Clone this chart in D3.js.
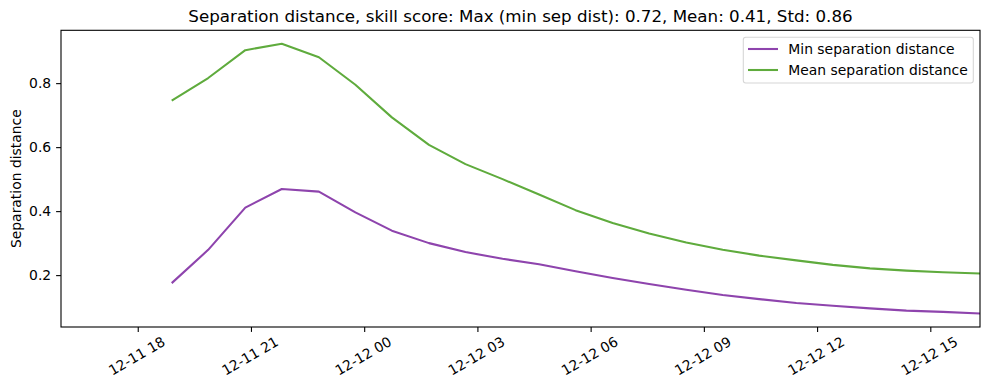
<!DOCTYPE html>
<html>
<head>
<meta charset="utf-8">
<script src="https://cdn.jsdelivr.net/npm/d3@7"></script>
<style>
  html, body { margin: 0; padding: 0; background: #fff; }
  svg { display: block; font-family: "DejaVu Sans", sans-serif; }
</style>
</head>
<body>
<svg id="chart" width="989" height="390"></svg>
<script>
// ---- data ----
const times = [
  "2023-12-11T18:54", "2023-12-11T19:52", "2023-12-11T20:51", "2023-12-11T21:49",
  "2023-12-11T22:48", "2023-12-11T23:46", "2023-12-12T00:44", "2023-12-12T01:43",
  "2023-12-12T02:41", "2023-12-12T03:40", "2023-12-12T04:38", "2023-12-12T05:36",
  "2023-12-12T06:35", "2023-12-12T07:33", "2023-12-12T08:32", "2023-12-12T09:30",
  "2023-12-12T10:28", "2023-12-12T11:27", "2023-12-12T12:25", "2023-12-12T13:24",
  "2023-12-12T14:22", "2023-12-12T15:20", "2023-12-12T16:19"
];
const minSep = [0.175, 0.279, 0.411, 0.469, 0.461, 0.396, 0.339, 0.300, 0.272, 0.251, 0.234, 0.212,
                0.191, 0.172, 0.154, 0.138, 0.125, 0.113, 0.104, 0.096, 0.089, 0.085, 0.080];
const meanSep = [0.745, 0.816, 0.903, 0.923, 0.881, 0.795, 0.693, 0.607, 0.547, 0.500, 0.452, 0.403,
                 0.363, 0.330, 0.302, 0.279, 0.261, 0.246, 0.232, 0.221, 0.214, 0.209, 0.205];
const seriesNames = ["Min separation distance", "Mean separation distance"];
const seriesColors = ["#8e44ad", "#5fab3d"];
const yTicks = [0.2, 0.4, 0.6, 0.8];
const xTickTimes = ["2023-12-11T18:00", "2023-12-11T21:00", "2023-12-12T00:00", "2023-12-12T03:00",
                    "2023-12-12T06:00", "2023-12-12T09:00", "2023-12-12T12:00", "2023-12-12T15:00"];
const xDomain = ["2023-12-11T15:58", "2023-12-12T16:19"];
const titleText = "Separation distance, skill score: Max (min sep dist): 0.72, Mean: 0.41, Std: 0.86";
const yLabel = "Separation distance";

// ---- layout ----
const parse = d3.isoParse;
const svg = d3.select("#chart");
const L = 61, R = 980, T = 30.3, B = 327;
const x = d3.scaleTime().domain(xDomain.map(parse)).range([L, R]);
const allVals = minSep.concat(meanSep);
const lo = d3.min(allVals), hi = d3.max(allVals), pad = (hi - lo) * 0.05;
const y = d3.scaleLinear().domain([lo - pad, hi + pad]).range([B, T]);

const fs = 13.9;
const fmt = d3.timeFormat("%m-%d %H");

// lines
const series = [minSep, meanSep];
const line = d3.line().x((d, i) => x(parse(times[i]))).y(d => y(d));
const clip = svg.append("clipPath").attr("id", "clip").append("rect")
  .attr("x", L).attr("y", T).attr("width", R - L).attr("height", B - T);
series.forEach((s, k) => {
  svg.append("path").datum(s).attr("d", line)
    .attr("fill", "none").attr("stroke", seriesColors[k]).attr("stroke-width", 2.08)
    .attr("stroke-linejoin", "round").attr("stroke-linecap", "butt")
    .attr("clip-path", "url(#clip)");
});

// axes
const yAxis = d3.axisLeft(y).tickValues(yTicks).tickSize(4.9).tickPadding(4.9).tickFormat(d3.format(".1f"));
const gy = svg.append("g").attr("transform", `translate(${L},0)`).call(yAxis);
gy.select(".domain").remove();
gy.selectAll("text").attr("font-size", fs).attr("font-family", "DejaVu Sans").attr("fill", "#000");
gy.selectAll("line").attr("stroke", "#000").attr("stroke-width", 1.1);

const xAxis = d3.axisBottom(x).tickValues(xTickTimes.map(parse)).tickSize(4.9).tickFormat(fmt);
const gx = svg.append("g").attr("transform", `translate(0,${B})`).call(xAxis);
gx.select(".domain").remove();
gx.selectAll("line").attr("stroke", "#000").attr("stroke-width", 1.1);
gx.selectAll(".tick text").each(function() {
  const t = d3.select(this);
  t.attr("font-size", fs).attr("font-family", "DejaVu Sans").attr("fill", "#000")
   .attr("y", 0).attr("dy", null).attr("text-anchor", "middle").attr("dominant-baseline", "central");
  const w = this.getComputedTextLength();
  const h = fs * 1.16;
  const a = Math.PI / 6;
  const bh = w * Math.sin(a) + h * Math.cos(a);
  const cy = 4.9 + 4.9 + bh / 2 - 3.5;
  t.attr("transform", `translate(-1.5,${cy}) rotate(-30)`);
});

// frame
svg.append("rect").attr("x", L).attr("y", T).attr("width", R - L).attr("height", B - T)
  .attr("fill", "none").attr("stroke", "#000").attr("stroke-width", 1.1);

// title
svg.append("text").attr("x", (L + R) / 2).attr("y", 22).attr("text-anchor", "middle")
  .attr("font-size", 16.7).attr("fill", "#000").text(titleText);

// y label
svg.append("text").attr("transform", `translate(20.5,${(T + B) / 2}) rotate(-90)`)
  .attr("text-anchor", "middle").attr("font-size", fs).attr("fill", "#000").text(yLabel);

// legend
const lg = svg.append("g");
lg.append("rect").attr("x", 743.3).attr("y", 37.3).attr("width", 230).attr("height", 45.7)
  .attr("rx", 2.5).attr("fill", "#fff").attr("fill-opacity", 0.8)
  .attr("stroke", "#d6d6d6").attr("stroke-width", 1.1);
seriesNames.forEach((n, k) => {
  const yy = 49 + k * 21;
  lg.append("line").attr("x1", 748).attr("x2", 778).attr("y1", yy).attr("y2", yy)
    .attr("stroke", seriesColors[k]).attr("stroke-width", 2.08);
  lg.append("text").attr("x", 788.3).attr("y", yy).attr("dominant-baseline", "central")
    .attr("font-size", fs).attr("fill", "#000").text(n);
});
</script>
</body>
</html>
